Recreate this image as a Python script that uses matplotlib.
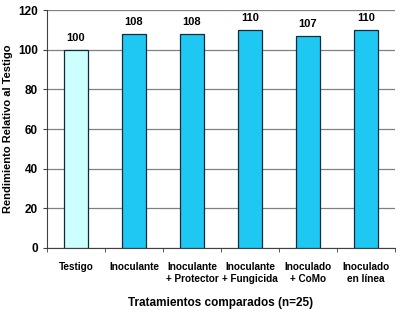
import matplotlib
matplotlib.use('Agg')
import matplotlib.pyplot as plt
import numpy as np

plt.rcParams['font.family'] = ['Liberation Sans', 'DejaVu Sans']

categorias = ['Testigo', 'Inoculante', 'Inoculante\n+ Protector', 'Inoculante\n+ Fungicida',
              'Inoculado\n+ CoMo', 'Inoculado\nen línea']
valores = [100, 108, 108, 110, 107, 110]
etiquetas = ['100', '108', '108', '110', '107', '110']
colores = ['#ccffff', '#1ec8f2', '#1ec8f2', '#1ec8f2', '#1ec8f2', '#1ec8f2']

fig = plt.figure(figsize=(4, 3.13), dpi=100)
ax = fig.add_axes([0.1175, 0.2077, 0.87, 0.76])

x = np.arange(len(categorias))
ax.bar(x, valores, width=0.4, color=colores, edgecolor='#102a38', linewidth=0.9, zorder=3)
for xi, v, t in zip(x, valores, etiquetas):
    ax.text(xi, v + 3.3, t, ha='center', va='bottom', fontsize=8, fontweight='bold')

ax.set_xlim(-0.5, len(categorias) - 0.5)
ax.set_ylim(0, 120)
ax.set_yticks(range(0, 121, 20))
ax.yaxis.grid(True, color='#808080', linewidth=0.9, zorder=0)
ax.set_xticks(x)
ax.set_xticklabels(categorias, fontsize=7.2, fontweight='bold', linespacing=1.3)
ax.set_xticks(np.arange(-0.5, len(categorias), 1), minor=True)
ax.tick_params(axis='x', which='major', length=0, pad=10)
ax.tick_params(axis='x', which='minor', length=3, color='#404040')
ax.tick_params(axis='y', labelsize=8.5, length=3, color='#404040')
for lbl in ax.get_yticklabels():
    lbl.set_fontweight('bold')

for s in ['top', 'right']:
    ax.spines[s].set_visible(False)
ax.spines['left'].set_color('#404040')
ax.spines['bottom'].set_color('#404040')

ax.set_ylabel('Rendimiento Relativo al Testigo', fontsize=8, fontweight='bold')
ax.set_xlabel('Tratamientos comparados (n=25)', fontsize=8.5, fontweight='bold', labelpad=9)

fig.savefig('out.png', dpi=100)
